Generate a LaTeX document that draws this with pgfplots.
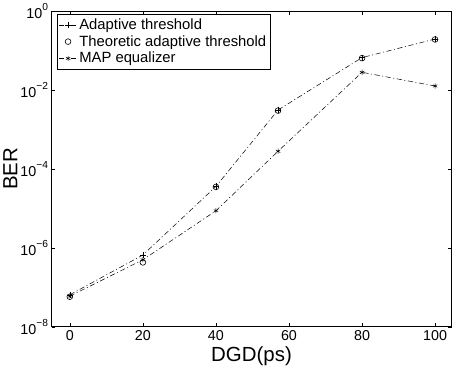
\documentclass[border=0pt]{standalone}
\usepackage{pgfplots}
\pgfplotsset{compat=1.18}
\usepackage{fontspec}
\setmainfont{Liberation Sans}
\newcommand{\ex}[1]{10\raisebox{0.55em}{\fontsize{10}{10}\selectfont #1}}
\begin{document}
\begin{tikzpicture}
\begin{axis}[
  scale only axis,
  width=390bp, height=308bp,
  ymode=log,
  xmin=-5, xmax=104.5,
  ymin=1e-8, ymax=1,
  xtick={0,20,40,60,80,100},
  ytick={1e-8,1e-6,1e-4,1e-2,1},
  yticklabels={\ex{−8},\ex{−6},\ex{−4},\ex{−2},\ex{0}},
  yminorticks=false,
  tick align=inside,
  major tick length=3.5bp,
  axis line style={line width=0.9pt},
  every tick/.style={black, line width=0.6pt},
  /pgf/number format/assume math mode=true,
  tick label style={font=\fontsize{14}{16}\selectfont},
  xlabel={DGD(ps)},
  ylabel={BER},
  label style={font=\fontsize{20}{22}\selectfont},
  xlabel style={yshift=1bp},
  ylabel style={yshift=-4bp},
  legend cell align=left,
  legend style={at={(0.013,0.99)}, anchor=north west, draw=black, line width=0.6pt,
    font=\fontsize{14.5}{16.5}\selectfont, inner sep=2pt, row sep=0pt,
    nodes={inner sep=2.2pt}},
  legend image post style={line width=0.5pt},
]
\addplot[black, line width=0.5pt, dash pattern=on 5bp off 2.5bp on 1bp off 2.5bp, mark=+, mark size=3bp, mark options={solid}]
 coordinates {(0,6.5e-8) (20,6.6e-7) (40,3.6e-5) (57,3.1e-3) (80,6.6e-2) (100,0.195)};
\addlegendentry{Adaptive threshold}
\addplot[black, only marks, mark=o, mark size=2.8bp, mark options={solid, line width=0.6pt}]
 coordinates {(0,5.8e-8) (20,4.3e-7) (40,3.5e-5) (57,3.0e-3) (80,6.4e-2) (100,0.19)};
\addlegendentry{Theoretic adaptive threshold}
\addplot[black, line width=0.5pt, dash pattern=on 5bp off 2.5bp on 1bp off 2.5bp, mark=asterisk, mark size=2.5bp, mark options={solid}]
 coordinates {(0,6.0e-8) (20,5.0e-7) (40,8.7e-6) (57,2.8e-4) (80,2.8e-2) (100,1.26e-2)};
\addlegendentry{MAP equalizer}
\end{axis}
\end{tikzpicture}
\end{document}
